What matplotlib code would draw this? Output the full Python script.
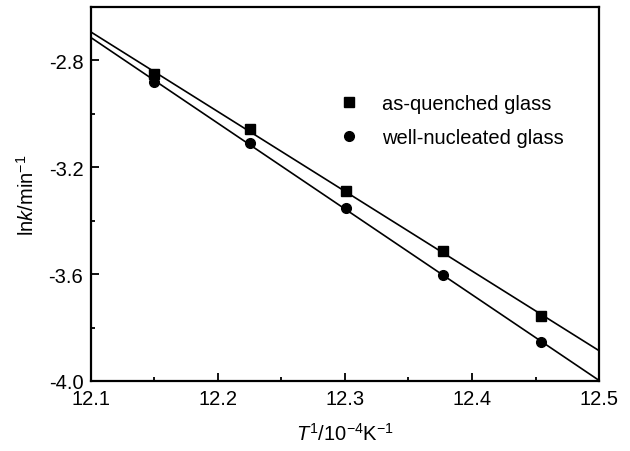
import numpy as np
import matplotlib
matplotlib.use("Agg")
import matplotlib.pyplot as plt

plt.rcParams['font.family'] = ['Liberation Sans', 'DejaVu Sans']
plt.rcParams['mathtext.fontset'] = 'custom'
plt.rcParams['mathtext.rm'] = 'Liberation Sans'
plt.rcParams['mathtext.it'] = 'Liberation Sans:italic'
plt.rcParams['mathtext.bf'] = 'Liberation Sans:bold'

# data
inv_T = [12.150, 12.225, 12.301, 12.377, 12.454]
lnk_quenched = [-2.852, -3.058, -3.290, -3.514, -3.757]
lnk_nucleated = [-2.882, -3.110, -3.353, -3.604, -3.854]
labels = ["as-quenched glass", "well-nucleated glass"]
xticks = [12.1, 12.2, 12.3, 12.4, 12.5]
yticks = [-4.0, -3.6, -3.2, -2.8]

FS = 14.5

fig = plt.figure(figsize=(6.30, 4.52), dpi=100)
ax = fig.add_axes([0.1444, 0.1549, 0.8064, 0.8274])

xfit = np.array([12.1, 12.5])
handles = []
for y, m, lab in [(lnk_quenched, 's', labels[0]), (lnk_nucleated, 'o', labels[1])]:
    p = np.polyfit(inv_T, y, 1)
    ax.plot(xfit, np.polyval(p, xfit), color='black', lw=1.2, clip_on=True)
    h, = ax.plot(inv_T, y, linestyle='none', marker=m, color='black',
                 markersize=7, label=lab)
    handles.append(h)

ax.set_xlim(12.1, 12.5)
ax.set_ylim(-4.0, -2.6)
ax.set_xticks(xticks)
ax.set_xticklabels([f"{v:.1f}" for v in xticks])
ax.set_yticks(yticks)
ax.set_yticklabels([f"{v:.1f}" for v in yticks])
ax.set_xticks(np.arange(12.15, 12.5, 0.1), minor=True)
ax.set_yticks([-3.8, -3.4, -3.0], minor=True)

ax.tick_params(which='both', direction='in', top=False, right=False,
               labelsize=FS, width=1.3)
ax.tick_params(which='major', length=6, pad=5.5)
ax.tick_params(which='minor', length=3)
for s in ax.spines.values():
    s.set_linewidth(1.6)

ax.set_xlabel(r'$\mathit{T}^{1}$/10$^{-4}$K$^{-1}$', fontsize=FS, labelpad=10)
ax.set_ylabel(r'ln$\mathit{k}$/min$^{-1}$', fontsize=FS, labelpad=8)

leg = ax.legend(handles=handles, loc='upper left', bbox_to_anchor=(0.488, 0.767),
                frameon=False, fontsize=FS, handlelength=1.0, handletextpad=1.14,
                labelspacing=0.75, borderaxespad=0, borderpad=0)

fig.savefig('out.png', dpi=100)
